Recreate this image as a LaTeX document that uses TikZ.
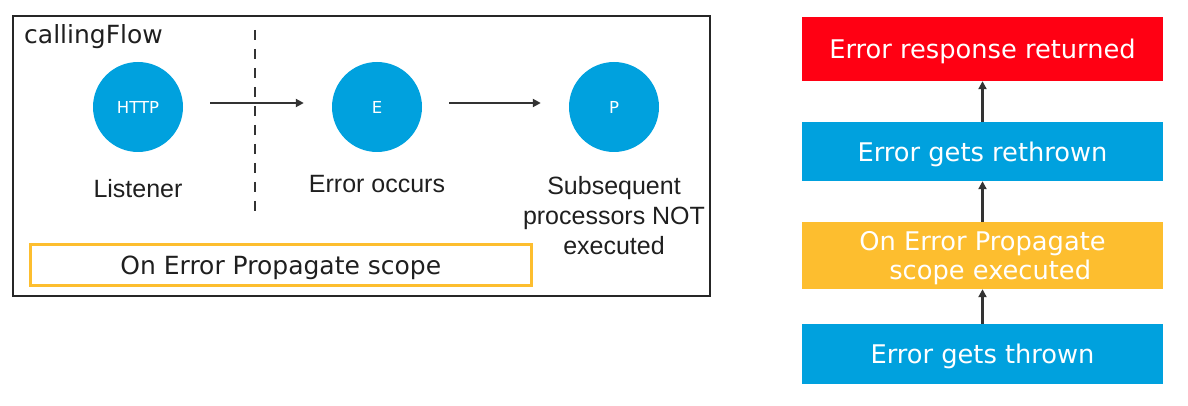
\documentclass[tikz,border=0pt]{standalone}
\usepackage{fontspec}
\setmainfont{DejaVu Sans}
\newfontfamily\labelfont{Liberation Sans}
\usetikzlibrary{positioning,arrows.meta}
\definecolor{muleBlue}{HTML}{00A1DE}
\definecolor{errRed}{HTML}{FF0013}
\definecolor{scopeYellow}{HTML}{FDBE2F}
\definecolor{lineGray}{HTML}{333333}

\begin{document}
\begin{tikzpicture}[x=1pt, y=-1pt,
    proc/.style={circle, fill=muleBlue, minimum size=90pt, inner sep=0pt, text=white, font=\fontsize{16.5}{18}\selectfont},
    lbl/.style={font=\labelfont\fontsize{25}{30}\selectfont, align=center, text=black!88},
    stage/.style={minimum width=361pt, inner sep=0pt, text depth=0pt, text=white, align=center, font=\fontsize{25.7}{29.5}\selectfont},
    flowarrow/.style={-{Triangle[length=8pt, width=8pt]}, lineGray, line width=2.6pt}]

    \useasboundingbox (0,0) rectangle (1188,406);

    % calling flow
    \node[draw=black!85, line width=2.2pt, minimum width=697pt, minimum height=280pt, anchor=north west] (flow) at (12,15) {};
    \node[anchor=base west, inner sep=0pt, text=black!88, font=\fontsize{25}{30}\selectfont] (flowname) at (24,44) {callingFlow};

    \node[proc] (http) at (138,107) {HTTP};
    \node[proc] (e) at (377,107) {E};
    \node[proc] (p) at (614,107) {P};

    \node[lbl] (listener) [below=45pt of http, anchor=base] {Listener};
    \node[lbl] (occurs) [below=40pt of e, anchor=base] {Error occurs};
    \node[lbl] (notexec) [below=21pt of p] {Subsequent\\processors NOT\\executed};

    \coordinate (cuttop) at (255,30);
    \coordinate (cutbot) at (255,215);
    \draw[lineGray, line width=2.6pt, dash pattern=on 10pt off 9pt] (cuttop) -- (cutbot);

    \node[draw=scopeYellow, line width=2.6pt, minimum width=501pt, minimum height=41pt, anchor=north west,
          text depth=0pt, text=black!88, font=\fontsize{25}{30}\selectfont] (scope) at (29,243) {On Error Propagate scope};

    \path[flowarrow, shorten <=27pt, shorten >=28pt]
        ([yshift=4pt]http.east) edge ([yshift=4pt]e.west)
        ([yshift=4pt]e.east) edge ([yshift=4pt]p.west);

    % error handling stages
    \node[stage, fill=muleBlue, minimum height=60pt] (thrown) at (982.5,354) {Error gets thrown};
    \node[stage, fill=scopeYellow, minimum height=67pt] (propagate) at (982.5,255.5) {On Error Propagate\\\hspace*{0.6em}scope executed};
    \node[stage, fill=muleBlue, minimum height=59pt] (rethrown) at (982.5,151.5) {Error gets rethrown};
    \node[stage, fill=errRed, minimum height=64pt] (returned) at (982.5,49) {Error response returned};

    \path[flowarrow]
        (thrown) edge (propagate)
        (propagate) edge (rethrown)
        (rethrown) edge (returned);
\end{tikzpicture}
\end{document}
